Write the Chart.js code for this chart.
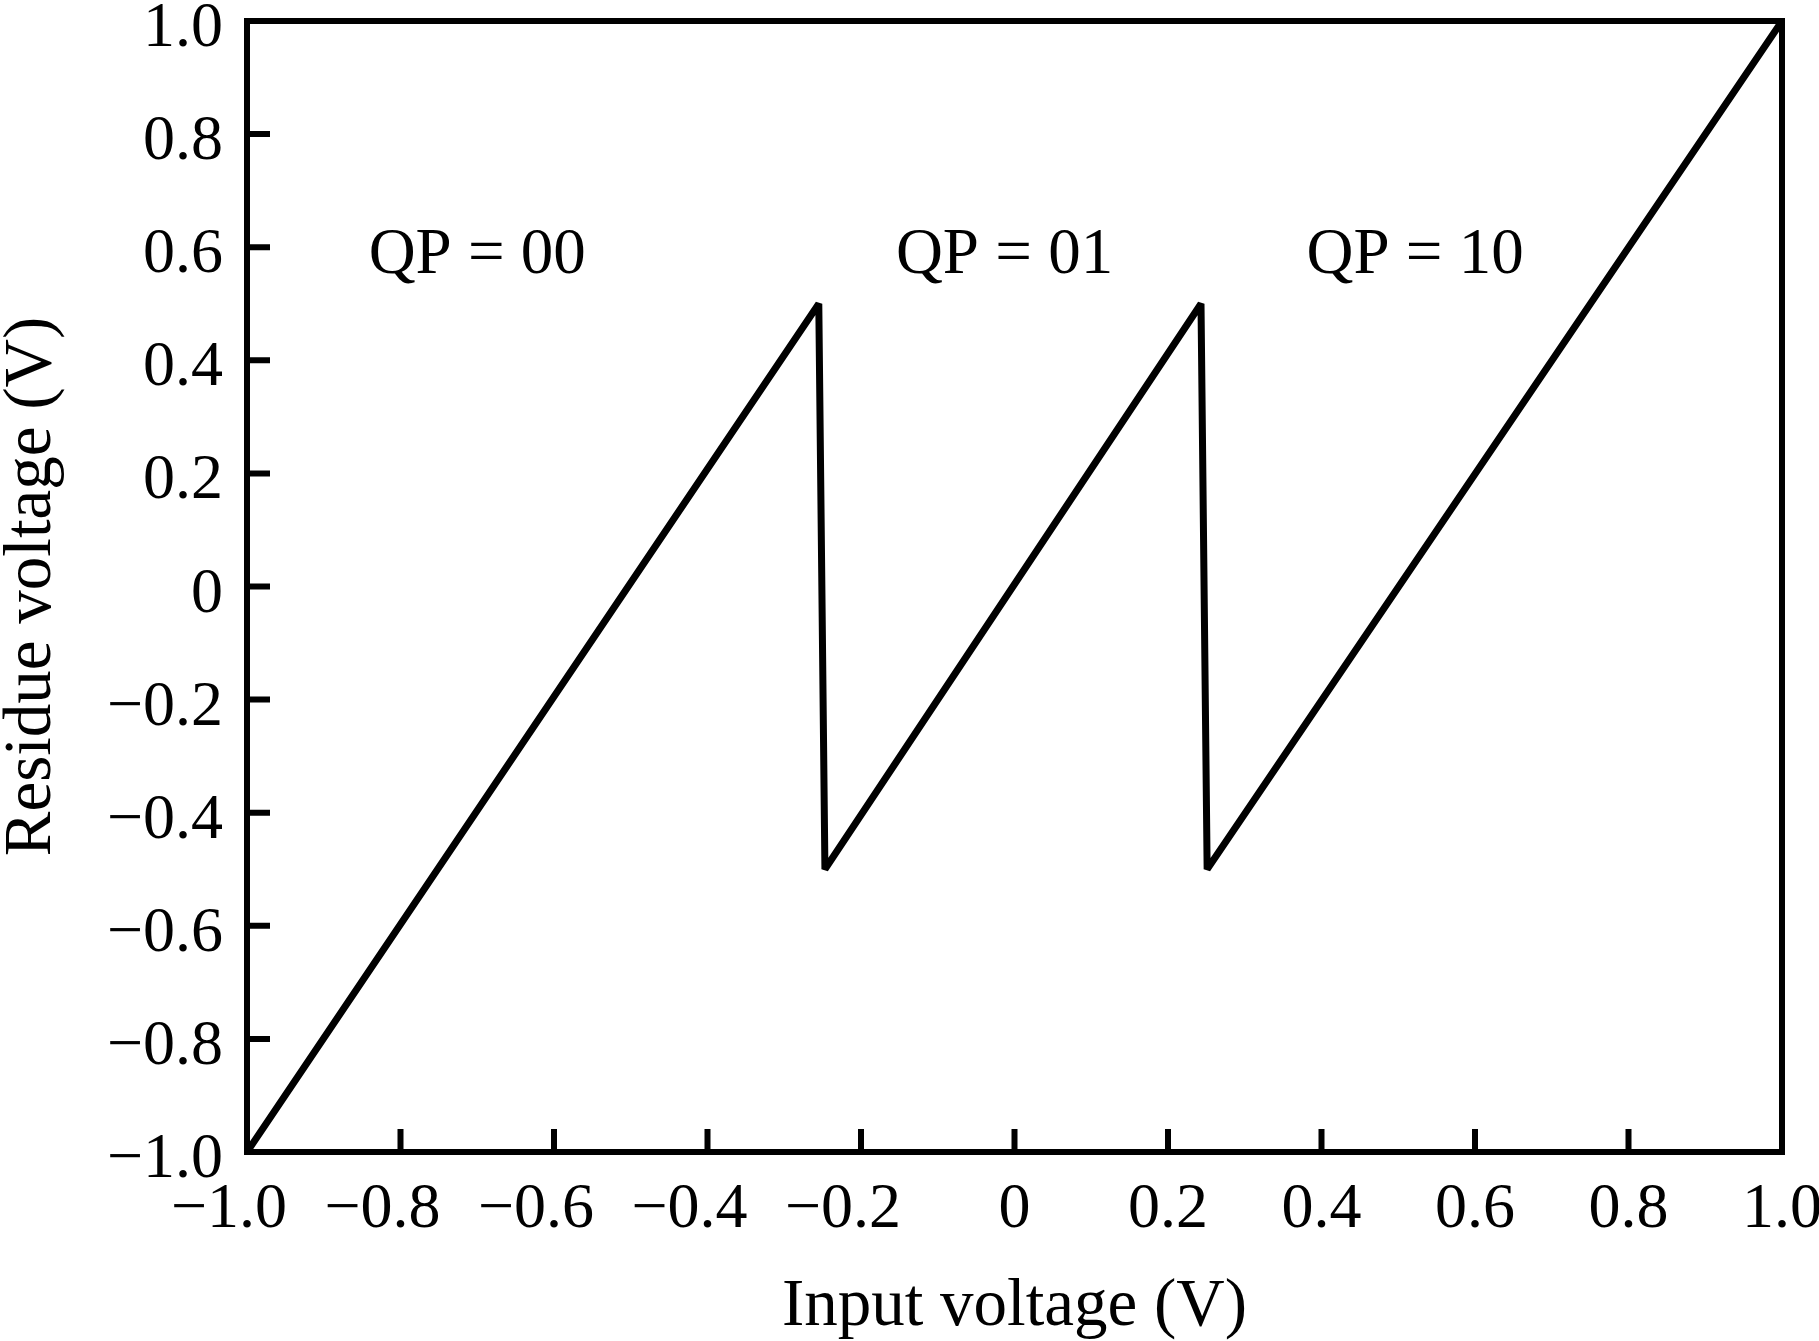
<!DOCTYPE html>
<html>
<head>
<meta charset="utf-8">
<script src="https://cdn.jsdelivr.net/npm/chart.js@4.4.1/dist/chart.umd.min.js"></script>
<style>
  html, body { margin: 0; padding: 0; background: #fff; }
  canvas { display: block; }
</style>
</head>
<body>
<canvas id="residueChart" width="1819" height="1341"></canvas>
<script>
// residue transfer curve
const inputVoltage = [-1.0, -0.255, -0.247, 0.243, 0.251, 1.0];
const residueVoltage = [-1.0, 0.5, -0.5, 0.5, -0.5, 1.0];

const xTicks = [-1.0, -0.8, -0.6, -0.4, -0.2, 0, 0.2, 0.4, 0.6, 0.8, 1.0];
const yTicks = [-1.0, -0.8, -0.6, -0.4, -0.2, 0, 0.2, 0.4, 0.6, 0.8, 1.0];
const xTickLabels = ['\u22121.0', '\u22120.8', '\u22120.6', '\u22120.4', '\u22120.2', '0', '0.2', '0.4', '0.6', '0.8', '1.0'];
const yTickLabels = ['\u22121.0', '\u22120.8', '\u22120.6', '\u22120.4', '\u22120.2', '0', '0.2', '0.4', '0.6', '0.8', '1.0'];

const qpLabels = ['QP = 00', 'QP = 01', 'QP = 10'];
const qpX = [-0.70, -0.013, 0.522];
const qpY = 0.555;

const SERIF = '"Liberation Serif", "Times New Roman", serif';

// frame, inward ticks, labels and titles drawn with the chart's scales
const framePlugin = {
    id: 'frame',
    afterDraw(chart) {
        const ctx = chart.ctx;
        const { left, right, top, bottom } = chart.chartArea;
        const xs = chart.scales.x, ys = chart.scales.y;
        ctx.save();
        ctx.strokeStyle = '#000';
        ctx.fillStyle = '#000';
        ctx.lineWidth = 6;
        ctx.lineJoin = 'miter';
        ctx.strokeRect(left, top, right - left, bottom - top);

        // ticks
        ctx.beginPath();
        xTicks.forEach(v => {
            const px = xs.getPixelForValue(v);
            ctx.moveTo(px, bottom);
            ctx.lineTo(px, bottom - 23);
        });
        yTicks.forEach(v => {
            const py = ys.getPixelForValue(v);
            ctx.moveTo(left, py);
            ctx.lineTo(left + 23, py);
        });
        ctx.stroke();

        // tick labels
        ctx.font = '64px ' + SERIF;
        ctx.textBaseline = 'alphabetic';
        ctx.textAlign = 'right';
        yTicks.forEach((v, i) => {
            ctx.fillText(yTickLabels[i], left - 24, ys.getPixelForValue(v) + 25);
        });
        xTicks.forEach((v, i) => {
            const txt = xTickLabels[i];
            const num = txt.replace('\u2212', '');
            const w = ctx.measureText(num).width;
            ctx.fillText(txt, xs.getPixelForValue(v) + w / 2, bottom + 75);
        });

        // region labels
        ctx.font = '65px ' + SERIF;
        ctx.textAlign = 'center';
        qpLabels.forEach((t, i) => {
            ctx.fillText(t, xs.getPixelForValue(qpX[i]), ys.getPixelForValue(qpY));
        });

        // axis titles
        ctx.font = '67px ' + SERIF;
        ctx.fillText('Input voltage (V)', (left + right) / 2, 1325);
        ctx.translate(50, (top + bottom) / 2);
        ctx.rotate(-Math.PI / 2);
        ctx.fillText('Residue voltage (V)', 0, 0);
        ctx.restore();
    }
};

new Chart(document.getElementById('residueChart').getContext('2d'), {
    type: 'scatter',
    data: {
        datasets: [{
            label: 'Residue',
            data: inputVoltage.map((x, i) => ({ x: x, y: residueVoltage[i] })),
            showLine: true,
            borderColor: '#000',
            borderWidth: 7,
            borderJoinStyle: 'bevel',
            pointRadius: 0,
            tension: 0
        }]
    },
    options: {
        responsive: false,
        animation: false,
        devicePixelRatio: 1,
        layout: { padding: { left: 247, top: 21, right: 37, bottom: 189 } },
        plugins: {
            legend: { display: false },
            tooltip: { enabled: false }
        },
        scales: {
            x: { type: 'linear', min: -1, max: 1, display: false },
            y: { type: 'linear', min: -1, max: 1, display: false }
        }
    },
    plugins: [framePlugin]
});
</script>
</body>
</html>
